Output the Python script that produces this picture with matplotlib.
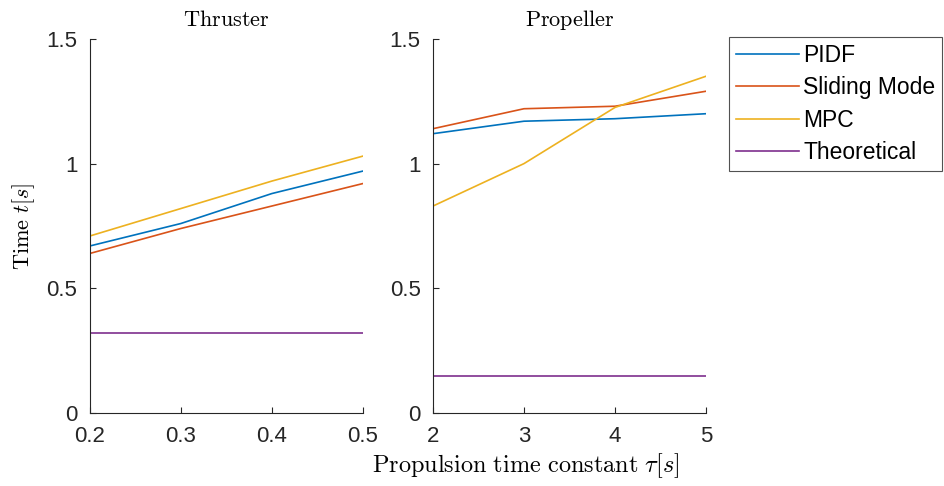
import matplotlib
matplotlib.use("Agg")
import matplotlib.pyplot as plt

plt.rcParams["font.family"] = ["Liberation Sans", "DejaVu Sans"]
plt.rcParams["mathtext.fontset"] = "cm"

# Thruster case
thr_tau = [0.2, 0.3, 0.4, 0.5]
thr_pidf = [0.67, 0.76, 0.88, 0.97]
thr_sliding = [0.64, 0.74, 0.83, 0.92]
thr_mpc = [0.71, 0.82, 0.93, 1.03]
thr_theory = [0.32, 0.32, 0.32, 0.32]

# Propeller case
prop_tau = [2, 3, 4, 5]
prop_pidf = [1.12, 1.17, 1.18, 1.20]
prop_sliding = [1.14, 1.22, 1.23, 1.29]
prop_mpc = [0.83, 1.00, 1.225, 1.35]
prop_theory = [0.15, 0.15, 0.15, 0.15]

labels = ["PIDF", "Sliding Mode", "MPC", "Theoretical"]
colors = ["#0072BD", "#D95319", "#EDB120", "#7E2F8E"]
axis_col = "#262626"

fig = plt.figure(figsize=(9.44, 4.86), dpi=100)
ax1 = fig.add_axes([0.0953, 0.150, 0.289, 0.770])
ax2 = fig.add_axes([0.4587, 0.150, 0.289, 0.770])


def style(ax, x, ticks, title):
    ax.set_xlim(x[0], x[-1])
    ax.set_ylim(0, 1.5)
    ax.set_xticks(ticks)
    ax.set_yticks([0, 0.5, 1, 1.5])
    ax.set_yticklabels(["0", "0.5", "1", "1.5"])
    ax.spines["top"].set_visible(False)
    ax.spines["right"].set_visible(False)
    for s in ["left", "bottom"]:
        ax.spines[s].set_color(axis_col)
        ax.spines[s].set_linewidth(0.8)
    ax.tick_params(direction="in", length=4, width=0.8, colors=axis_col,
                   labelsize=16, pad=9)
    ax.set_title(r"$\mathrm{%s}$" % title, fontsize=16, pad=9)


series1 = [thr_pidf, thr_sliding, thr_mpc, thr_theory]
series2 = [prop_pidf, prop_sliding, prop_mpc, prop_theory]
for ys, c, lab in zip(series1, colors, labels):
    ax1.plot(thr_tau, ys, color=c, lw=1.2, label=lab)
for ys, c in zip(series2, colors):
    ax2.plot(prop_tau, ys, color=c, lw=1.2)

style(ax1, thr_tau, thr_tau, "Thruster")
ax1.set_xticklabels(["0.2", "0.3", "0.4", "0.5"])
style(ax2, prop_tau, prop_tau, "Propeller")

ax1.set_ylabel(r"$\mathrm{Time}\ t[s]$", fontsize=16, labelpad=7)
fig.text(0.557, 0.028, r"$\mathrm{Propulsion\ time\ constant}\ \tau[s]$",
         ha="center", fontsize=17.5)

leg = fig.legend(loc="upper left", bbox_to_anchor=(0.772, 0.923),
                 fontsize=16.5, frameon=True, fancybox=False, handlelength=2.75,
                 handletextpad=0.2, borderpad=0.3, labelspacing=0.4,
                 borderaxespad=0)
leg.get_frame().set_edgecolor(axis_col)
leg.get_frame().set_linewidth(0.8)

fig.savefig("out.png", dpi=100)
